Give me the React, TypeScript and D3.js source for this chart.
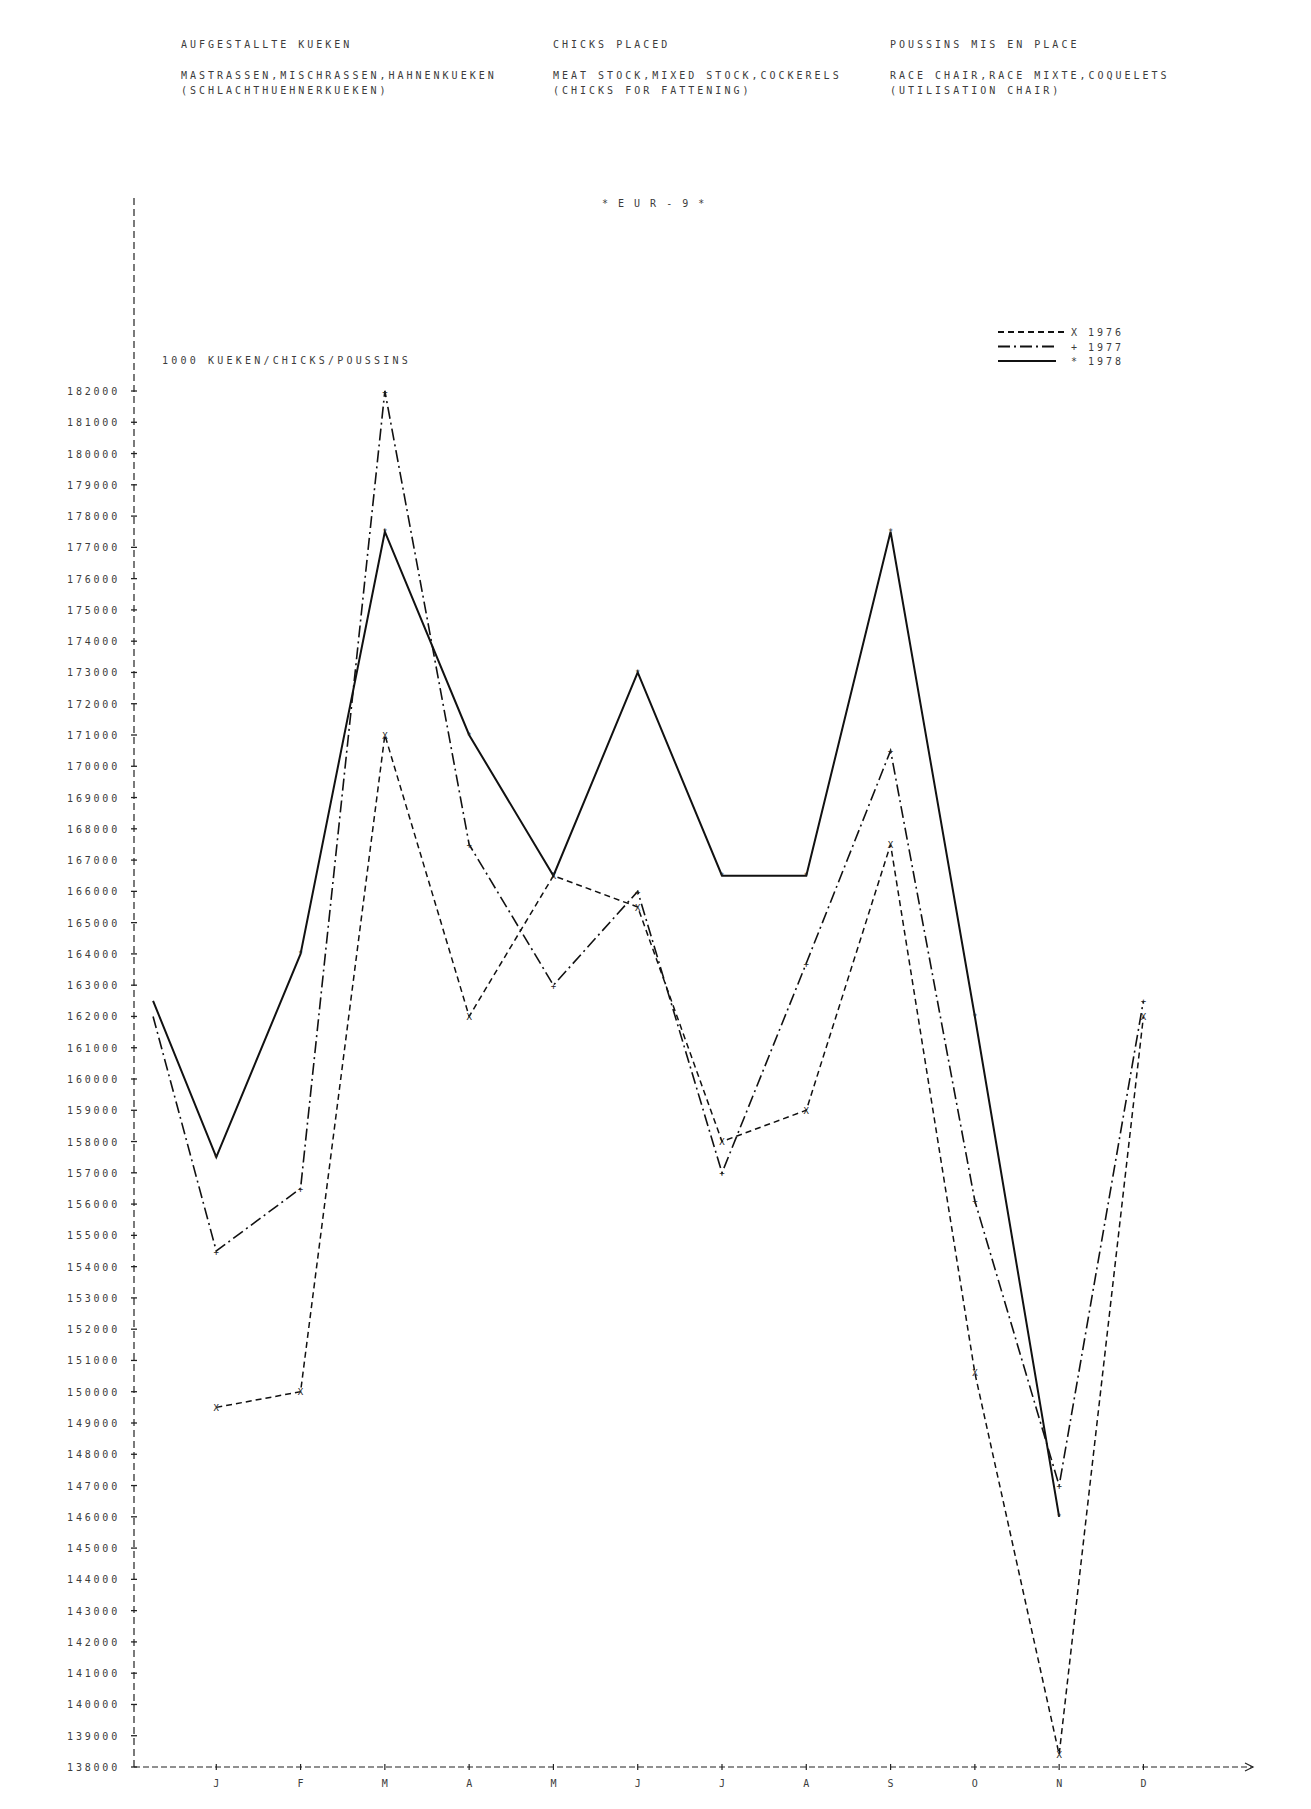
import React, { useEffect, useRef } from 'react';
import * as d3 from 'd3';

// period 0 is December of the previous year, drawn just right of the y axis
const periodPos = [0.25, 1, 2, 3, 4, 5, 6, 7, 8, 9, 10, 11, 12];
const monthLabels = ["J", "F", "M", "A", "M", "J", "J", "A", "S", "O", "N", "D"];

const values1976 = [null, 149500, 150000, 171000, 162000, 166500, 165500, 158000, 159000, 167500, 150600, 138400, 162000];
const values1977 = [162000, 154500, 156500, 182000, 167500, 163000, 166000, 157000, 163700, 170500, 156100, 147000, 162500];
const values1978 = [162500, 157500, 164000, 177500, 171000, 166500, 173000, 166500, 166500, 177500, 162000, 146000, null];

const seriesNames = ["1976", "1977", "1978"];
const seriesMarks = ["X", "+", "*"];

const headerDE = ["AUFGESTALLTE KUEKEN", "MASTRASSEN,MISCHRASSEN,HAHNENKUEKEN", "(SCHLACHTHUEHNERKUEKEN)"];
const headerEN = ["CHICKS PLACED", "MEAT STOCK,MIXED STOCK,COCKERELS", "(CHICKS FOR FATTENING)"];
const headerFR = ["POUSSINS MIS EN PLACE", "RACE CHAIR,RACE MIXTE,COQUELETS", "(UTILISATION CHAIR)"];
const subTitle = "* E U R - 9 *";
const unitLabel = "1000 KUEKEN/CHICKS/POUSSINS";

const yMin = 138000;
const yMax = 182000;

const W = 1311;
const H = 1809;
const FONT = "'DejaVu Sans Mono', 'Liberation Mono', monospace";
const INK = "#3c3c3c";

export default function App() {
  const svgRef = useRef<SVGSVGElement>(null);

  useEffect(() => {
    if (!svgRef.current) return;
    const svg = d3.select(svgRef.current);
    svg.selectAll("*").remove();

    const x = d3.scaleLinear().domain([0, 13.3]).range([132, 1253]);
    const y = d3.scaleLinear().domain([yMin, yMax]).range([1767, 391]);
    const x0 = x(0) + 2;

    const txt = (sel: any) => sel
      .attr("font-family", FONT)
      .attr("font-size", "10px")
      .attr("fill", INK)
      .attr("letter-spacing", "3px");

    // header block, three languages
    const headers = [headerDE, headerEN, headerFR];
    const headerX = [181, 553, 890];
    const lineY = [48, 79, 94];
    headers.forEach((lines, c) => {
      lines.forEach((s, r) => {
        svg.append("text").call(txt)
          .attr("x", headerX[c]).attr("y", lineY[r]).text(s);
      });
    });

    svg.append("text").call(txt)
      .attr("x", 602).attr("y", 207).attr("letter-spacing", "2px").text(subTitle);

    svg.append("text").call(txt)
      .attr("x", 162).attr("y", 364).attr("letter-spacing", "3.2px").text(unitLabel);

    // y axis (dashed) with + ticks
    svg.append("line")
      .attr("x1", x0).attr("x2", x0)
      .attr("y1", 198).attr("y2", y(yMin))
      .attr("stroke", "#222").attr("stroke-width", 1.2)
      .attr("stroke-dasharray", "7,4");

    const yTicks = d3.range(yMin, yMax + 1, 1000);
    const yt = svg.append("g");
    yTicks.forEach(v => {
      yt.append("line")
        .attr("x1", x0 - 3).attr("x2", x0 + 3)
        .attr("y1", y(v)).attr("y2", y(v))
        .attr("stroke", "#222").attr("stroke-width", 1.3);
      yt.append("text").call(txt)
        .attr("x", 120).attr("y", y(v) + 4)
        .attr("text-anchor", "end")
        .attr("letter-spacing", "2.8px")
        .text(String(v));
    });

    // x axis (dashed) with arrow
    svg.append("line")
      .attr("x1", x0).attr("x2", x(13.3))
      .attr("y1", y(yMin)).attr("y2", y(yMin))
      .attr("stroke", "#222").attr("stroke-width", 1.2)
      .attr("stroke-dasharray", "6,3");
    svg.append("path")
      .attr("d", `M${x(13.3) - 8},${y(yMin) - 4} L${x(13.3)},${y(yMin)} L${x(13.3) - 8},${y(yMin) + 4}`)
      .attr("fill", "none").attr("stroke", "#222").attr("stroke-width", 1.2);

    monthLabels.forEach((m, i) => {
      const px = x(i + 1);
      svg.append("line")
        .attr("x1", px).attr("x2", px)
        .attr("y1", y(yMin) - 3).attr("y2", y(yMin) + 3)
        .attr("stroke", "#222").attr("stroke-width", 1.2);
      svg.append("text").call(txt)
        .attr("x", px).attr("y", 1787)
        .attr("text-anchor", "middle")
        .attr("letter-spacing", "0px")
        .text(m);
    });

    // series
    const series = [values1976, values1977, values1978];
    const dashes = ["6,4", "12,4,2,4", null];
    const widths = [1.5, 1.6, 2];

    series.forEach((vals, s) => {
      const pts = vals
        .map((v, i) => ({ v, p: periodPos[i] }))
        .filter(d => d.v !== null) as { v: number; p: number }[];

      const line = d3.line<{ v: number; p: number }>()
        .x(d => x(d.p))
        .y(d => y(d.v));

      svg.append("path")
        .datum(pts)
        .attr("fill", "none")
        .attr("stroke", "#111")
        .attr("stroke-width", widths[s])
        .attr("stroke-dasharray", dashes[s])
        .attr("stroke-linejoin", "miter")
        .attr("d", line);

      svg.append("g")
        .selectAll("text")
        .data(pts.filter(d => d.p >= 1))
        .enter()
        .append("text")
        .attr("x", d => x(d.p))
        .attr("y", d => y(d.v) + 3.5)
        .attr("text-anchor", "middle")
        .attr("font-family", FONT)
        .attr("font-size", s === 2 ? "8px" : "9px")
        .attr("fill", "#222")
        .text(seriesMarks[s]);
    });

    // legend
    const lg = svg.append("g");
    seriesNames.forEach((name, s) => {
      const ly = 332 + s * 14.5;
      lg.append("line")
        .attr("x1", 998).attr("x2", s === 0 ? 1066 : 1056)
        .attr("y1", ly).attr("y2", ly)
        .attr("stroke", "#111")
        .attr("stroke-width", s === 2 ? 2.2 : 1.8)
        .attr("stroke-dasharray", dashes[s]);
      lg.append("text").call(txt)
        .attr("x", 1074).attr("y", ly + 4)
        .attr("text-anchor", "middle")
        .attr("letter-spacing", "0px")
        .text(seriesMarks[s]);
      lg.append("text").call(txt)
        .attr("x", 1088).attr("y", ly + 4)
        .text(name);
    });
  }, []);

  return (
    <div style={{ position: "absolute", left: 0, top: 0, width: W, height: H, background: "#fff" }}>
      <svg ref={svgRef} width={W} height={H} />
    </div>
  );
}
